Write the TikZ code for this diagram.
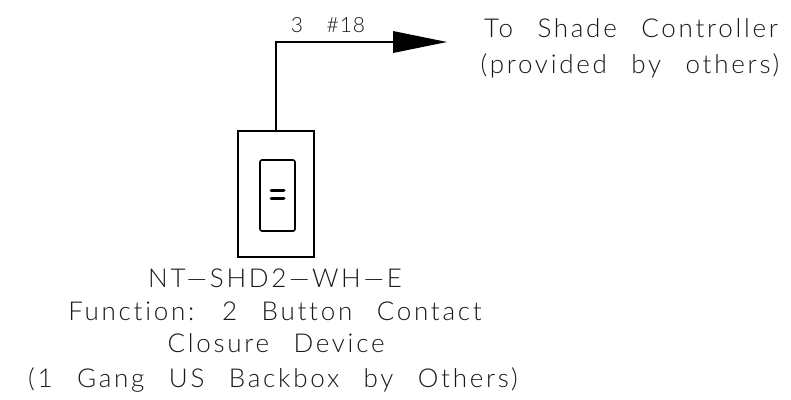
\documentclass[tikz,border=0pt]{standalone}
\usepackage{fontspec}
\setmainfont{Liberation Sans}
\newfontfamily\cadfont[LetterSpace=10.5,WordSpace=2.5,Ligatures=NoCommon,UprightFont=* Light]{Lato}
\newfontfamily\cadsmall[LetterSpace=5,WordSpace=2,Ligatures=NoCommon,UprightFont=* Light]{Lato}
\definecolor{cadtext}{gray}{0.1}
\tikzset{
  x=1pt,y=-1pt,
  wire/.style={line width=1.6pt,line join=miter},
  cadlabel/.style={inner sep=0pt,text=cadtext,anchor=base,font=\cadfont\fontsize{26}{26}\selectfont},
  smalllabel/.style={inner sep=0pt,text=cadtext,anchor=base,font=\cadsmall\fontsize{21}{21}\selectfont},
}
\begin{document}
\begin{tikzpicture}
\useasboundingbox (0,0) rectangle (791,399);
\node[draw,wire,minimum width=76pt,minimum height=126pt,inner sep=0pt] (plate) at (276,194) {};
\node[draw,wire,rounded corners=2pt,minimum width=35pt,minimum height=71pt,inner sep=0pt] (rocker) at (277.5,195.5) {};
\coordinate (corner) at (276,42);
\coordinate (tail) at (393,42);
\coordinate (tip) at (447,42);
\draw[wire] (plate.north) -- (corner) -- (tail);
\fill[black] (tail) ++(0,-11) -- (tip) -- (393,53) -- cycle;
\draw[line width=3pt,line cap=round] (271,190) -- (284,190);
\draw[line width=3pt,line cap=round] (271,198) -- (284,198);
\node[smalllabel] (wires) at (328,32) {3\hspace{10pt} \#18};
\node[cadlabel] (ctrl1) at (631,37) {To Shade Controller};
\node[cadlabel] (ctrl2) at (630,73) {(provided by others)};
\node[cadlabel] (l1) at (275,287) {NT—SHD2—WH—E};
\node[cadlabel] (l2) at (275,320) {Function: 2 Button Contact};
\node[cadlabel] (l3) at (276,352) {Closure Device};
\node[cadlabel] (l4) at (273,387) {(1 Gang US Backbox by Others)};
\end{tikzpicture}
\end{document}
